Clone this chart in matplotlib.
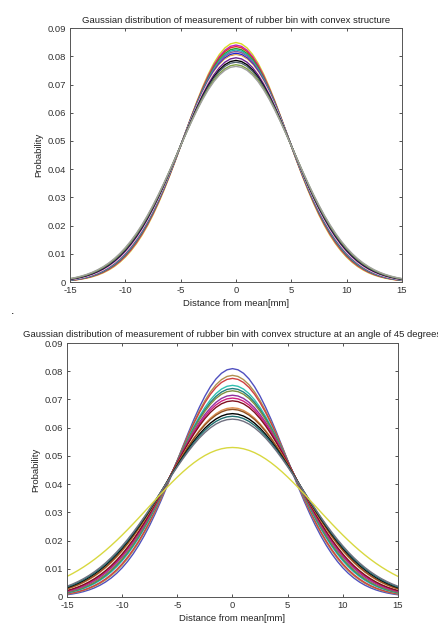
import matplotlib.pyplot as plt
import numpy as np

plt.rcParams['font.family'] = ['Liberation Sans', 'DejaVu Sans']
plt.rcParams['axes.unicode_minus'] = False

# distancia desde la media (mm)
x = np.arange(-15, 15.01, 0.5)

sig_top = [4.70, 4.75, 4.78, 4.82, 4.85, 4.88, 4.92, 4.95, 4.98, 5.02, 5.08, 5.12, 5.18, 5.22]
col_top = ['#d8d820', '#c020c0', '#e03030', '#2aa02a', '#20b0b0', '#8a5a9a', '#2020d0',
           '#e0a050', '#ffffff', '#702090', '#000000', '#506070', '#80a040', '#a0a0a0']

sig_bot = [4.93, 5.08, 5.15, 5.32, 5.40, 5.46, 5.58, 5.66, 5.74, 5.95, 6.00, 6.14, 6.23, 6.33, 7.53]
col_bot = ['#5050c0', '#b09050', '#d04040', '#30c0b0', '#208080', '#809040', '#9030a0',
           '#d02080', '#801020', '#e09050', '#905020', '#000000', '#207070', '#707080', '#d8d840']

def gauss(s):
    return np.exp(-x**2 / (2*s**2)) / (s*np.sqrt(2*np.pi))

fig = plt.figure(figsize=(4.39, 6.24), dpi=100)
ax1 = fig.add_axes([0.1595, 0.548, 0.756, 0.407])
ax2 = fig.add_axes([0.1526, 0.0433, 0.754, 0.407])

for s, c in zip(sig_top, col_top):
    ax1.plot(x, gauss(s), color=c, lw=1.0)
for s, c in zip(sig_bot, col_bot):
    ax2.plot(x, gauss(s), color=c, lw=1.0)

titulos = ['Gaussian distribution of measurement of rubber bin with convex structure',
           'Gaussian distribution of measurement of rubber bin with convex structure at an angle of 45 degrees']
for ax, t in zip([ax1, ax2], titulos):
    ax.set_xlim(-15, 15)
    ax.set_ylim(0, 0.09)
    ax.set_xticks([-15, -10, -5, 0, 5, 10, 15])
    ax.set_yticks(np.arange(0, 0.091, 0.01))
    ax.set_yticklabels(['0', '0.01', '0.02', '0.03', '0.04', '0.05', '0.06', '0.07', '0.08', '0.09'])
    ax.tick_params(direction='in', top=True, right=True, labelsize=6.8, length=2.5,
                   width=0.6, colors='#333333', pad=3)
    for sp in ax.spines.values():
        sp.set_color('#555555')
        sp.set_linewidth(0.7)
    ax.set_title(t, fontsize=6.8, pad=4, color='#222222')
    ax.set_xlabel('Distance from mean[mm]', fontsize=6.8, labelpad=2.5, color='#222222')
    ax.set_ylabel('Probability', fontsize=6.8, labelpad=3, color='#222222')

fig.text(0.025, 0.497, '.', fontsize=9)

fig.savefig('out.png', dpi=100)
